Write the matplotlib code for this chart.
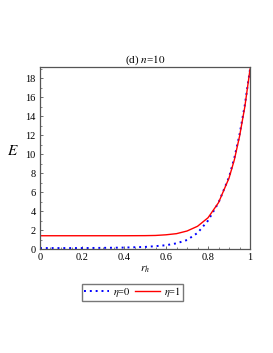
import matplotlib.pyplot as plt
from matplotlib.ticker import AutoMinorLocator

plt.rcParams['font.family'] = ['Liberation Serif', 'DejaVu Serif']
plt.rcParams['mathtext.fontset'] = 'stix'

# values
r = [0, 0.1, 0.2, 0.3, 0.4, 0.5, 0.55, 0.6, 0.65, 0.7, 0.75, 0.8, 0.85, 0.9, 0.925, 0.95, 0.975, 1.0]
E_eta0 = [0.1, 0.1, 0.1, 0.12, 0.15, 0.22, 0.3, 0.4, 0.6, 0.95, 1.7, 3.0, 4.9, 7.6, 9.6, 12.1, 15.2, 19.0]
E_eta1 = [1.4, 1.4, 1.4, 1.4, 1.4, 1.41, 1.43, 1.5, 1.62, 1.9, 2.4, 3.3, 4.9, 7.5, 9.4, 11.9, 15.0, 19.0]

fig = plt.figure(figsize=(2.73, 3.53), dpi=100)
ax = fig.add_axes([0.1465, 0.2946, 0.7695, 0.5154])

ax.plot(r, E_eta0, color='blue', linestyle=(0, (1, 2)), linewidth=1.4, label=r'$\eta$=$0$')
ax.plot(r, E_eta1, color='red', linewidth=1.0, label=r'$\eta$=$1$')

ax.set_xlim(0, 1)
ax.set_ylim(0, 19.2)
ax.set_xticks([0, 0.2, 0.4, 0.6, 0.8, 1])
ax.set_xticklabels(['0', '0.2', '0.4', '0.6', '0.8', '1'])
ax.set_yticks(range(0, 19, 2))
ax.xaxis.set_minor_locator(AutoMinorLocator(4))
ax.yaxis.set_minor_locator(AutoMinorLocator(2))
ax.tick_params(labelsize=7.5, length=2.5, width=0.6, color='#555555', pad=3, direction='in')
ax.tick_params(which='minor', length=1.5, width=0.5, color='#555555', direction='in')
for s in ax.spines.values():
    s.set_color('#555555')
    s.set_linewidth(0.9)

ax.set_title('(d) $n$=$10$', fontsize=8, pad=2)
ax.set_ylabel('$E$', fontsize=11, rotation=0, labelpad=9)
ax.set_xlabel('$r_h$', fontsize=8, labelpad=2)

ax.legend(loc='upper center', bbox_to_anchor=(0.44, -0.19), ncol=2, fontsize=7.5,
          frameon=True, fancybox=False, edgecolor='#555555', handlelength=2.4,
          columnspacing=0.4, handletextpad=0.4, borderpad=0.15, borderaxespad=0)

plt.savefig('out.png', dpi=100)
